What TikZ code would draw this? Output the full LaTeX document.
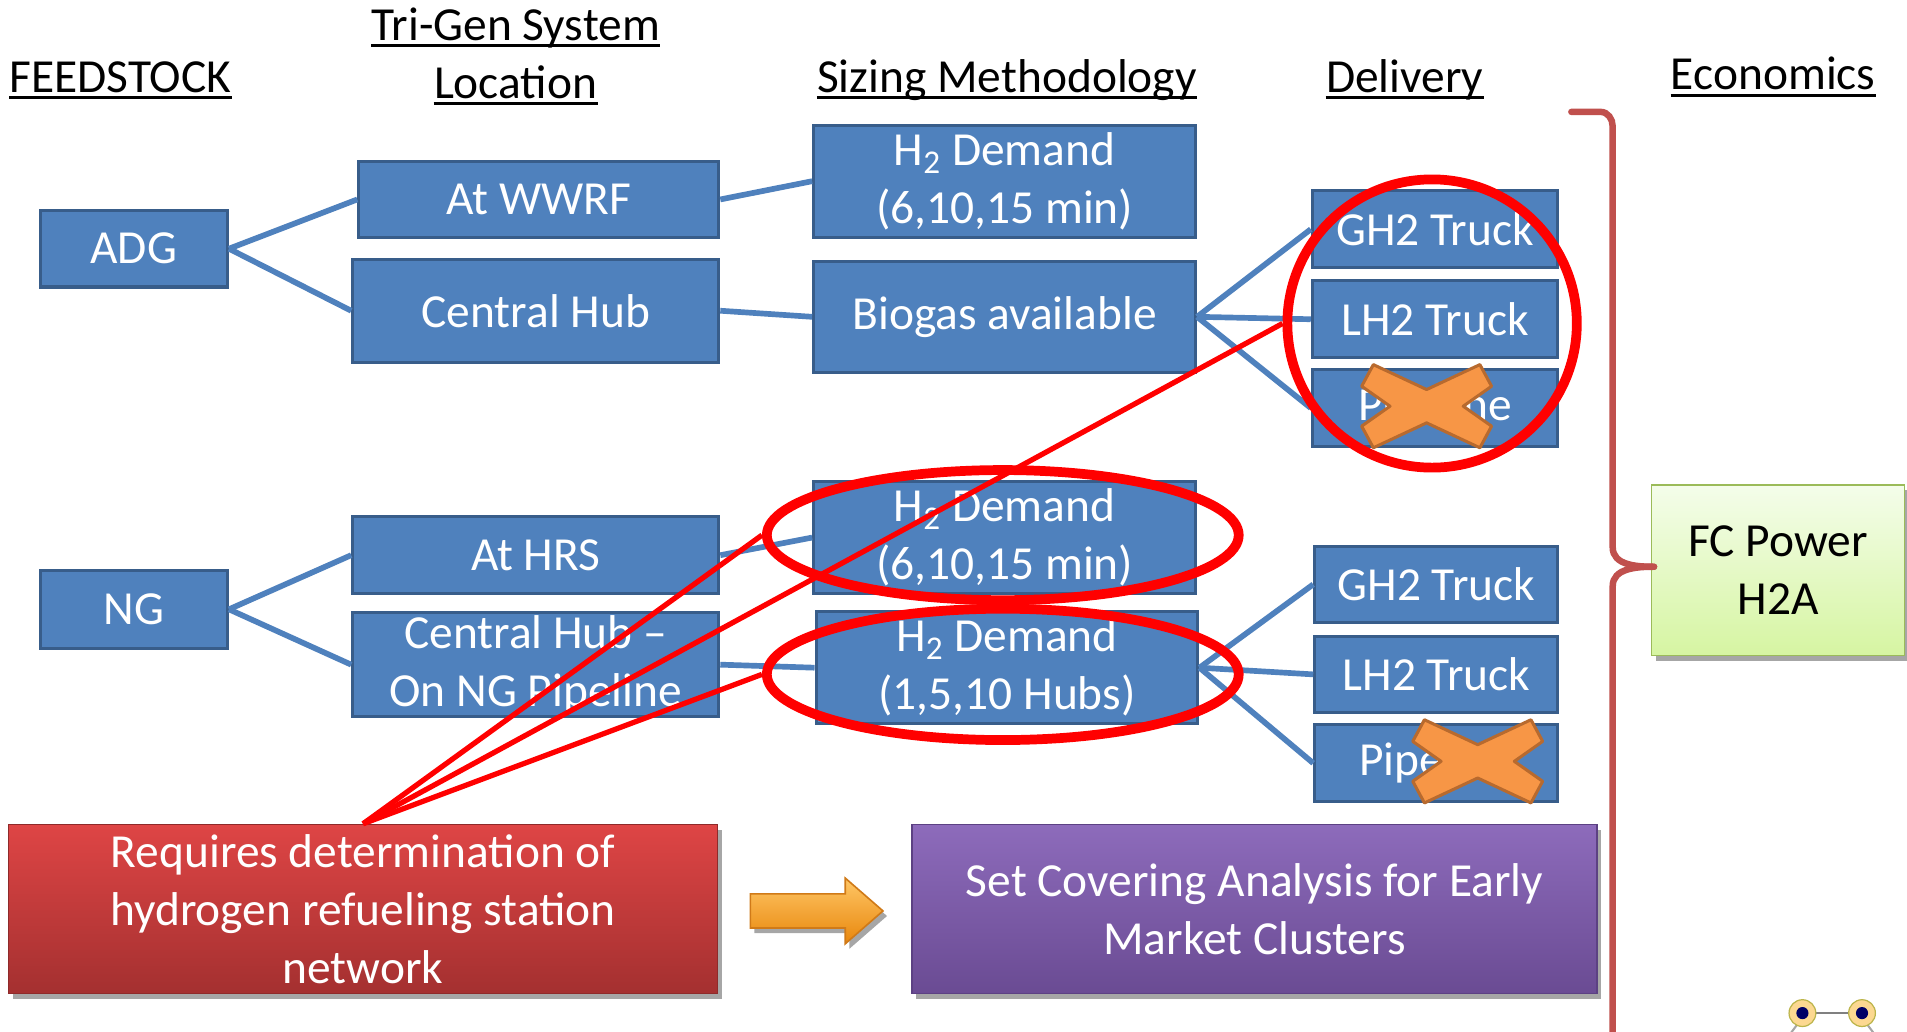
\documentclass[tikz,border=0pt]{standalone}
\usepackage{fontspec}
\setmainfont{Carlito}
\usetikzlibrary{shapes.geometric,shadows}
\definecolor{bluef}{HTML}{4F81BD}
\definecolor{bluebd}{HTML}{385D8A}
\definecolor{crossf}{HTML}{F79646}
\definecolor{crossbd}{HTML}{B86A2E}
\definecolor{brk}{HTML}{C0504D}
\definecolor{fctop}{HTML}{F4FDEA}
\definecolor{fcbot}{HTML}{D6F5A2}
\definecolor{fcbd}{HTML}{9BBB59}
\definecolor{redtop}{HTML}{DE4545}
\definecolor{redbot}{HTML}{A43030}
\definecolor{redbd}{HTML}{8E2A2A}
\definecolor{purtop}{HTML}{8D6BBB}
\definecolor{purbot}{HTML}{6A4B93}
\definecolor{purbd}{HTML}{5C4183}
\definecolor{arrtop}{HTML}{FFC766}
\definecolor{arrbot}{HTML}{E8860C}
\definecolor{arrbd}{HTML}{D07A18}
\newcommand\bfnt{\fontsize{23.4}{28.5}\selectfont}
\begin{document}
\begin{tikzpicture}[x=0.6pt,y=-0.6pt,
  bluebox/.style={draw=bluebd, fill=bluef, line width=1.5pt, text=white, inner sep=0pt, align=center, font=\bfnt},
  conn/.style={draw=bluef, line width=2.8pt},
  head/.style={anchor=base, font=\bfnt, inner sep=0pt},
  uln/.style={line width=1.3pt},
  redring/.style={ellipse, draw=red, line width=4.8pt, inner sep=0pt},
  redln/.style={draw=red, line width=2.6pt},
  crossst/.style={fill=crossf, draw=crossbd, line width=1.5pt, line join=round},
  shadowed/.style={drop shadow={shadow xshift=2pt, shadow yshift=-2.5pt, opacity=0.35, fill=black}}
]
\useasboundingbox (0,0) rectangle (1568,848);
\fill[white] (0,0) rectangle (1568,848);

% headings
\node[head] (hfeed) at (99,76) {FEEDSTOCK};
\node[head] (htri1) at (424,33) {Tri-Gen System};
\node[head] (htri2) at (424,81) {Location};
\node[head] (hsize) at (828,76) {Sizing Methodology};
\node[head] (hdel) at (1155,76) {Delivery};
\node[head] (heco) at (1458,74) {Economics};
\foreach \h in {hfeed,htri1,htri2,hsize,hdel,heco}{
  \draw[uln] ([yshift=-2.6pt]\h.base west) -- ([yshift=-2.6pt]\h.base east);
}

% boxes
\node[bluebox, minimum width=92.4pt, minimum height=37.8pt] (adg) at (110,204.5) {ADG};
\node[bluebox, minimum width=177.6pt, minimum height=37.2pt] (wwrf) at (443,164) {At WWRF};
\node[bluebox, minimum width=180.6pt, minimum height=51pt] (chub) at (440.5,255.5) {Central Hub};
\node[bluebox, minimum width=188.4pt, minimum height=55.2pt] (dema) at (826,149) {H\textsubscript{2} Demand\\(6,10,15 min)};
\node[bluebox, minimum width=188.4pt, minimum height=54.6pt] (bio) at (826,260.5) {Biogas available};
\node[bluebox, minimum width=121.2pt, minimum height=37.8pt] (gha) at (1180,188.5) {GH2 Truck};
\node[bluebox, minimum width=121.2pt, minimum height=37.8pt] (lha) at (1180,262.5) {LH2 Truck};
\node[bluebox, minimum width=121.2pt, minimum height=37.8pt] (pipa) at (1180,335.5) {Pipeline};

\node[bluebox, minimum width=92.4pt, minimum height=38.4pt] (ng) at (110,501) {NG};
\node[bluebox, minimum width=180.6pt, minimum height=37.8pt] (hrs) at (440.5,456.5) {At HRS};
\node[bluebox, minimum width=180.6pt, minimum height=51pt] (chng) at (440.5,546.5) {Central Hub --\\On NG Pipeline};
\node[bluebox, minimum width=188.4pt, minimum height=55.2pt] (demb) at (826,442) {H\textsubscript{2} Demand\\(6,10,15 min)};
\node[bluebox, minimum width=188.4pt, minimum height=55.2pt] (demc) at (828,549) {H\textsubscript{2} Demand\\(1,5,10 Hubs)};
\node[bluebox, minimum width=120pt, minimum height=37.8pt] (ghb) at (1181,480.5) {GH2 Truck};
\node[bluebox, minimum width=120pt, minimum height=37.8pt] (lhb) at (1181,554.5) {LH2 Truck};
\node[bluebox, minimum width=120pt, minimum height=37.8pt] (pipb) at (1181,627.5) {Pipeline};

\node[shadowed, draw=fcbd, line width=0.8pt, top color=fctop, bottom color=fcbot, minimum width=124.8pt, minimum height=84pt, inner sep=0pt, align=center, font=\bfnt] (fc) at (1462,469) {FC Power\\H2A};

\node[shadowed, draw=redbd, line width=0.8pt, top color=redtop, bottom color=redbot, text=white, minimum width=349.8pt, minimum height=83.4pt, inner sep=0pt, align=center, font=\bfnt] (req) at (298.5,747.5) {Requires determination of\\hydrogen refueling station\\network};
\node[shadowed, draw=purbd, line width=0.8pt, top color=purtop, bottom color=purbot, text=white, minimum width=337.8pt, minimum height=83.4pt, inner sep=0pt, align=center, font=\bfnt] (set) at (1031.5,747.5) {Set Covering Analysis for Early\\Market Clusters};

% orange arrow
\path[shadowed, draw=arrbd, line width=0.8pt, top color=arrtop, bottom color=arrbot]
  (617,735) -- (695,735) -- (695,722) -- (726,749) -- (695,776) -- (695,763) -- (617,763) -- cycle;

% connectors
\draw[conn] (adg.east) -- (wwrf.west);
\draw[conn] (adg.east) -- (chub.west);
\draw[conn] (wwrf.east) -- (dema.west);
\draw[conn] (chub.east) -- (bio.west);
\draw[conn] (bio.east) -- (gha.west);
\draw[conn] (bio.east) -- (lha.west);
\draw[conn] (bio.east) -- (pipa.west);
\draw[conn] (ng.east) -- (hrs.west);
\draw[conn] (ng.east) -- (chng.west);
\draw[conn] (hrs.east) -- (demb.west);
\draw[conn] (chng.east) -- (demc.west);
\draw[conn] (demc.east) -- (ghb.west);
\draw[conn] (demc.east) -- (lhb.west);
\draw[conn] (demc.east) -- (pipb.west);

% crosses
\foreach \cx/\cy in {1173/334, 1215/626}{
  \draw[crossst, shift={(\cx,\cy)}]
    (-43.8,-34.2) -- (0,-13.7) -- (43.8,-34.2) -- (53.4,-16.4) -- (30.1,0) --
    (53.4,16.4) -- (43.8,34.2) -- (0,13.7) -- (-43.8,34.2) -- (-53.4,16.4) --
    (-30.1,0) -- (-53.4,-16.4) -- cycle;
}

% bracket
\draw[brk, line width=3.2pt, line cap=round]
  (1292,92) -- (1316,92) to[out=0,in=90] (1326,104) -- (1326,450)
  to[out=-90,in=180] (1360,466);
\draw[brk, line width=3.2pt, line cap=round]
  (1360,466) to[out=180,in=90] (1326,482) -- (1326,860);

% red rings and lines
\node[redring, minimum width=142.8pt, minimum height=142.2pt] (ringa) at (1177.5,266) {};
\node[redring, minimum width=232.8pt, minimum height=64.2pt] (ringb) at (824.5,440) {};
\node[redring, minimum width=232.8pt, minimum height=64.8pt] (ringc) at (824.5,554.5) {};
\draw[redln] (req.north) -- (ringa.west);
\draw[redln] (req.north) -- (ringb.west);
\draw[redln] (req.north) -- (ringc.west);

% small logo bottom right
\draw[gray, line width=1pt] (1482,833) -- (1531,833);
\draw[gray!70, line width=1pt] (1478,842) -- (1472,850);
\draw[gray!70, line width=1pt] (1535,842) -- (1541,850);
\foreach \lx in {1482,1531}{
  \fill[yellow!30!orange!40] (\lx,833) circle (11);
  \draw[olive!60, line width=0.6pt] (\lx,833) circle (11);
  \fill[blue!40!black] (\lx,833) circle (5);
}
\end{tikzpicture}
\end{document}
